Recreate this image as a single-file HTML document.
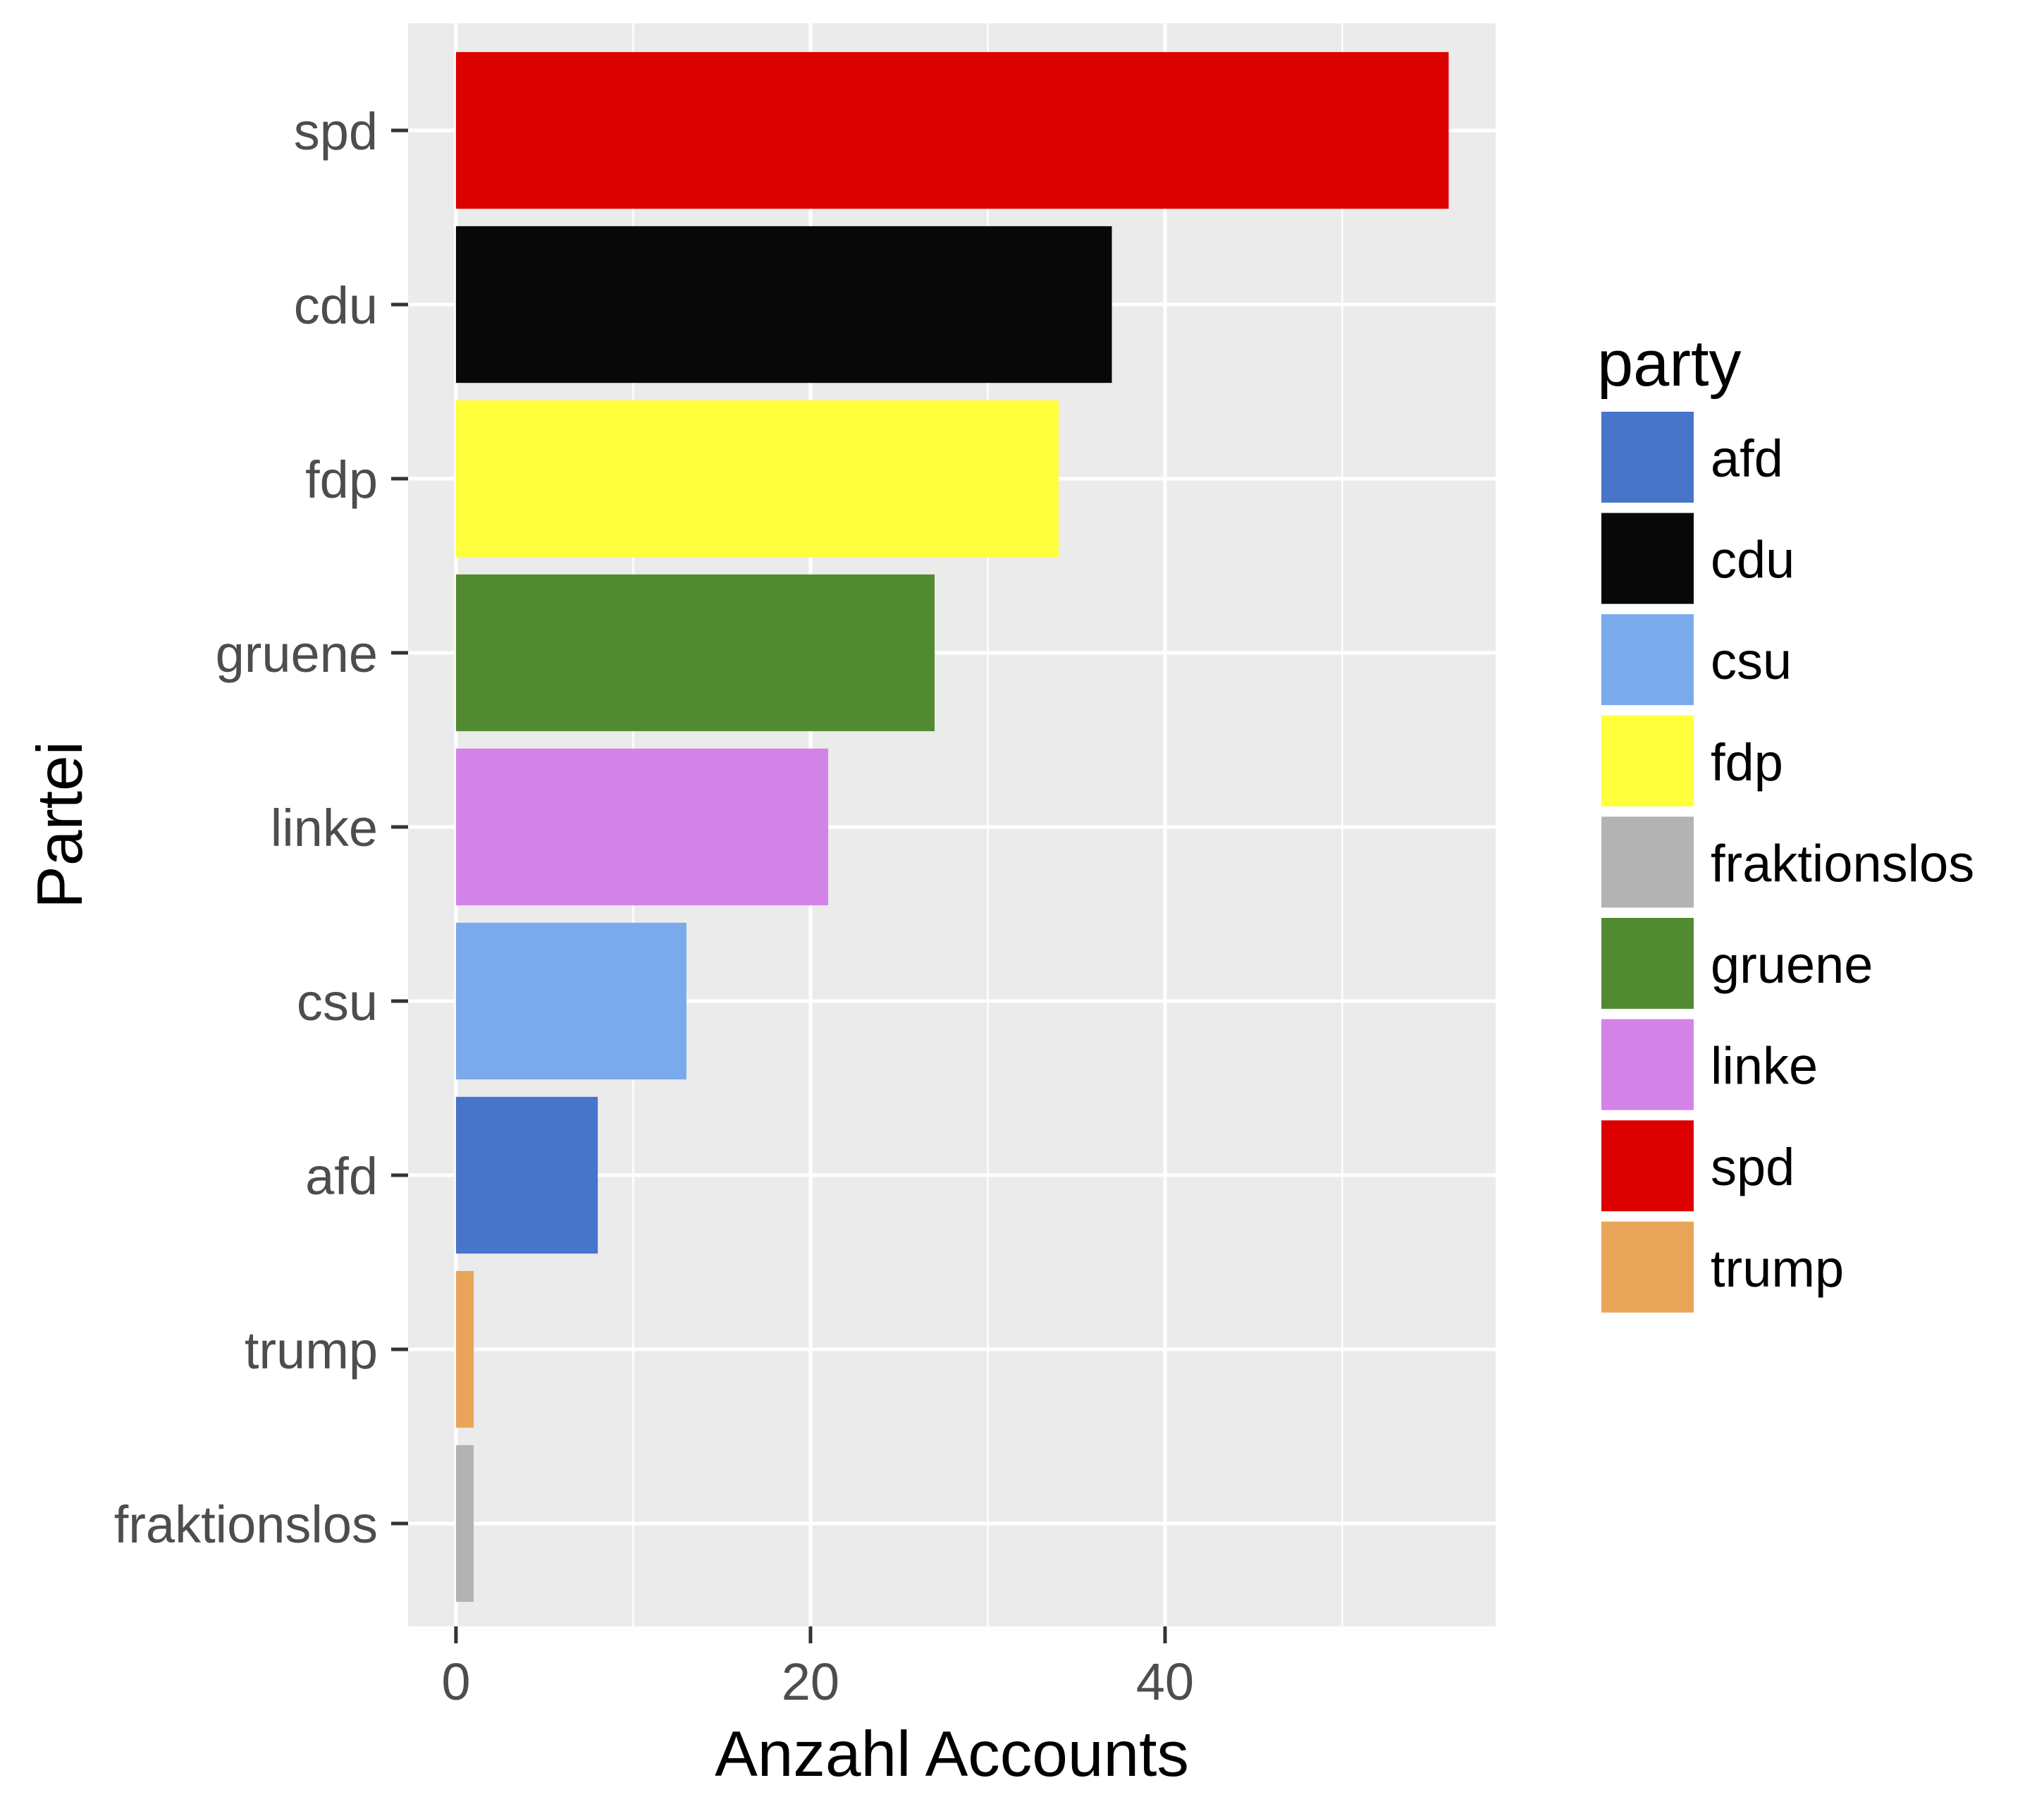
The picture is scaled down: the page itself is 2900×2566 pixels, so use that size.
<!DOCTYPE html>
<html><head><meta charset="utf-8"><style>
body{margin:0;background:#fff}
svg{display:block;font-family:"Liberation Sans",Arial,sans-serif}
</style></head><body>
<svg id="chart" width="2900" height="2566" viewBox="0 0 2900 2566"></svg>
<script>
const categories=["spd","cdu","fdp","gruene","linke","csu","afd","trump","fraktionslos"];
const values=[56,37,34,27,21,13,8,1,1];
const colors=["#DC0000","#080808","#FFFF3C","#528A31","#D383E8","#7AAAEB","#4775CA","#E8A55A","#B3B3B3"];
const xTicks=[0,20,40];
const xMinor=[10,30,50];
const legendParties=["afd","cdu","csu","fdp","fraktionslos","gruene","linke","spd","trump"];
const legendColors=["#4775CA","#080808","#7AAAEB","#FFFF3C","#B3B3B3","#528A31","#D383E8","#DC0000","#E8A55A"];

const NS="http://www.w3.org/2000/svg";
const svg=document.getElementById('chart');
const P={l:579,r:2122,t:33,b:2307};
const xMin=-2.70,xMax=58.65;
const x=v=>P.l+(v-xMin)/(xMax-xMin)*(P.r-P.l);
const y0=185,band=247;
const y=i=>y0+i*band;
function el(t,a,txt){const e=document.createElementNS(NS,t);for(const k in a)e.setAttribute(k,a[k]);if(txt!=null)e.textContent=txt;svg.appendChild(e);return e;}

let bg=el('rect',{x:P.l,y:P.t,width:P.r-P.l,height:P.b-P.t,fill:'#EBEBEB'});


xMinor.forEach(v=>{let g=el('line',{x1:x(v),x2:x(v),y1:P.t,y2:P.b,stroke:'#fff','stroke-width':2.5});

});
xTicks.forEach(v=>{let g=el('line',{x1:x(v),x2:x(v),y1:P.t,y2:P.b,stroke:'#fff','stroke-width':5});

});
categories.forEach((c,i)=>{let g=el('line',{x1:P.l,x2:P.r,y1:y(i),y2:y(i),stroke:'#fff','stroke-width':5});

});
categories.forEach((c,i)=>{
 let b=el('rect',{x:x(0),y:y(i)-0.45*band,width:x(values[i])-x(0),height:0.9*band,fill:colors[i]});
 
 
 let t=el('line',{x1:P.l-24,x2:P.l,y1:y(i),y2:y(i),stroke:'#333','stroke-width':5});
 
 
 let l=el('text',{x:536,y:y(i)+27,'text-anchor':'end','font-size':74,fill:'#4D4D4D'},c);
 
 
});
xTicks.forEach(v=>{
 let t=el('line',{x1:x(v),x2:x(v),y1:P.b,y2:P.b+24,stroke:'#333','stroke-width':5});
 
 
 let l=el('text',{x:x(v),y:2411,'text-anchor':'middle','font-size':74,fill:'#4D4D4D'},v);
 
 
});
let xt=el('text',{x:(P.l+P.r)/2,y:2519,'text-anchor':'middle','font-size':91,fill:'#000'},'Anzahl Accounts');


let yt=el('text',{x:0,y:0,'text-anchor':'middle','font-size':91,fill:'#000',transform:'translate(116,1170) rotate(-90)'},'Partei');


let lt=el('text',{x:2266,y:547,'font-size':92,fill:'#000'},'party');


legendParties.forEach((p,i)=>{
 const ky=584+i*143.6;
 let k=el('rect',{x:2272,y:ky,width:131,height:129,fill:legendColors[i]});
 
 
 let l=el('text',{x:2427,y:ky+92,'font-size':74,fill:'#000'},p);
 
 
});
</script>
</body></html>
